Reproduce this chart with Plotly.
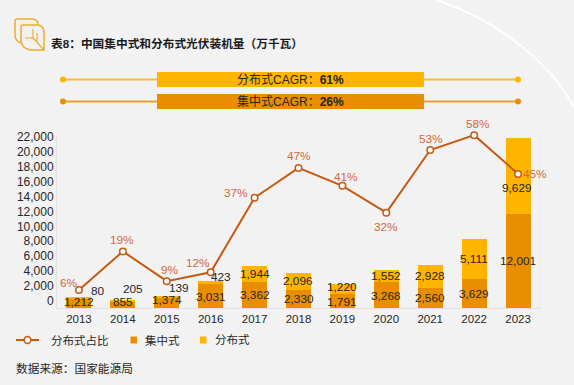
import plotly.graph_objects as go

years = ["2013","2014","2015","2016","2017","2018","2019","2020","2021","2022","2023"]
centralized = [1212,855,1374,3031,3362,2330,1791,3268,2560,3629,12001]
distributed = [80,205,139,423,1944,2096,1220,1552,2928,5111,9629]
share = [0.06,0.19,0.09,0.12,0.37,0.47,0.41,0.32,0.53,0.58,0.45]
tick_values = list(range(0,22001,2000))

FONT = "Liberation Sans, Arial, Noto Sans CJK SC"
C_CEN, C_DIS, C_LINE, C_PCT, C_TXT = "#e88e00", "#ffb400", "#c55a11", "#d2693a", "#262626"
BG = "#f2f2f2"
W, H = 574, 385
L, R, T, B = 57, 34, 135, 77
PW, PH = W - L - R, H - T - B

# label nudges in px (dx, dy-up)
cen_nudge = [(0,1.5),(0,2.6),(0,2.3),(0,-.6),(0,-.5),(0,-.5),(0,-.7),(0,-.5),(0,-.3),(0,-.6),(0,0)]
dis_nudge = [(18.7,6.9),(10,11.8),(12,8.4),(10,5.2),(0,0),(-1,0),(0,2),(0,0),(0,0),(0,0),(-1.5,-12.5)]
pct_nudge = [(-10,7.3),(-1,11),(3,11),(-12.5,9),(-18.5,5),(0,12),(4,9),(0,-14),(1,11),(4,11),(17,0)]

def fx(x): return (x - L) / PW
def fy(y): return 1 - (y - T) / PH

fig = go.Figure()
fig.add_trace(go.Scatter(x=years, y=[None]*len(years), yaxis="y", showlegend=False, hoverinfo="skip"))
fig.add_trace(go.Bar(x=years, y=centralized, name="集中式", marker=dict(color=C_CEN, line_width=0), yaxis="y2", width=0.57, showlegend=False))
fig.add_trace(go.Bar(x=years, y=distributed, name="分布式", marker=dict(color=C_DIS, line_width=0), yaxis="y2", width=0.57, showlegend=False))
fig.add_trace(go.Scatter(x=years, y=share, name="分布式占比", mode="lines+markers", yaxis="y3", cliponaxis=False, showlegend=False,
    line=dict(color=C_LINE, width=2),
    marker=dict(size=6.5, color="#fafafa", line=dict(color=C_LINE, width=1.5))))

ann = []
for i in range(len(years)):
    c, d = centralized[i], distributed[i]
    ann.append(dict(x=i, y=c/2, xref="x", yref="y2", text=f"{c:,}", showarrow=False, xshift=cen_nudge[i][0], yshift=cen_nudge[i][1],
                    font=dict(size=11.8, color=C_TXT, family=FONT)))
    ann.append(dict(x=i, y=c+d/2, xref="x", yref="y2", text=f"{d:,}", showarrow=False, xshift=dis_nudge[i][0], yshift=dis_nudge[i][1],
                    font=dict(size=11.8, color=C_TXT, family=FONT)))
    ann.append(dict(x=i, y=share[i], xref="x", yref="y3", text=f"{share[i]:.0%}", showarrow=False, xshift=pct_nudge[i][0], yshift=pct_nudge[i][1],
                    font=dict(size=11.8, color=C_PCT, family=FONT)))

def add_text(x, y, s, size, anchor="left", color=C_TXT):
    ann.append(dict(x=fx(x), y=fy(y), xref="paper", yref="paper", text=s, showarrow=False, xanchor=anchor, yanchor="middle",
                    font=dict(size=size, color=color, family=FONT)))

add_text(48.5, 44, "<b>表8：中国集中式和分布式光伏装机量（万千瓦）</b>", 11.7, color="#1a1a1a")
add_text(290.5, 79.5, "分布式CAGR：<b>61%</b>", 12, "center")
add_text(290.5, 101.5, "集中式CAGR：<b>26%</b>", 12, "center")
add_text(48.5, 340, "分布式占比", 11.5)
add_text(142.5, 340, "集中式", 11.5)
add_text(212.5, 340, "分布式", 11.5)
add_text(13.5, 368, "数据来源：国家能源局", 11.7)

sh = []
def rect(x0,y0,x1,y1,color):
    sh.append(dict(type="rect",xref="paper",yref="paper",x0=fx(x0),x1=fx(x1),y0=fy(y0),y1=fy(y1),fillcolor=color,line_width=0,layer="below"))
def line(x0,y0,x1,y1,color,w):
    sh.append(dict(type="line",xref="paper",yref="paper",x0=fx(x0),x1=fx(x1),y0=fy(y0),y1=fy(y1),line=dict(color=color,width=w),layer="below"))
def dot(x,y,r,color,fill=None,w=0):
    sh.append(dict(type="circle",xref="paper",yref="paper",x0=fx(x-r),x1=fx(x+r),y0=fy(y-r),y1=fy(y+r),
                   fillcolor=fill or color,line=dict(color=color,width=w),layer="below"))
def P(*pts):
    return " ".join(cmd + " ".join(f"{fx(x):.5f},{fy(y):.5f}" for x,y in coords) for cmd,coords in pts)
def path(d,color,w):
    sh.append(dict(type="path",path=d,xref="paper",yref="paper",line=dict(color=color,width=w),layer="below"))

# decorative arc
path(P(("M",[(437,0)]),("C",[(490,18),(545,55),(574,107)])), "#ffffff", 2)
# CAGR ribbons
line(63,79.5,518,79.5,"#f9bb3a",2); dot(63,79.5,3,C_DIS); dot(518,79.5,3,C_DIS); rect(157,72,424,87,C_DIS)
line(63,101.5,518,101.5,"#ee9f2d",2); dot(63,101.5,3,C_CEN); dot(518,101.5,3,C_CEN); rect(157,94,424,109,C_CEN)
# legend
line(16,340,39,340,C_LINE,2); dot(27.5,340,3.4,C_LINE,fill="#fafafa",w=1.5)
rect(130.5,336.5,137,343.5,C_CEN); rect(200,336.5,206.5,343.5,C_DIS)
# emblem
ICON = "#eead2a"
path(P(("M",[(17,19)]),("L",[(33,19)]),("Q",[(38,20),(38,25)]),("M",[(21,43)]),("Q",[(15,41),(15,35)]),("L",[(15,21)]),("Q",[(15,19),(17,19)])), ICON, 1.5)
path(P(("M",[(23,25)]),("L",[(38,25)]),("Q",[(44,26),(44,33)]),("L",[(44,50)]),("L",[(30,50)]),("Q",[(21,48),(21,40)]),("L",[(21,27)]),("Q",[(21,25),(23,25)])), ICON, 1.5)
path(P(("M",[(44,50)]),("L",[(33,38)]),("L",[(33,29)]),("M",[(33,38)]),("L",[(25,38)]),("M",[(37,42)]),("L",[(37,33)])), ICON, 1.2)
# right frame line
line(540,135,540,308,"#e8e8e8",1)

fig.update_layout(
    width=W, height=H, autosize=False,
    paper_bgcolor=BG, plot_bgcolor="rgba(0,0,0,0)",
    margin=dict(l=L, r=R, t=T, b=B),
    barmode="stack", showlegend=False,
    font=dict(family=FONT, size=12, color=C_TXT),
    xaxis=dict(type="category", categoryorder="array", categoryarray=years, range=[-0.5,10.5], showgrid=False, showline=True, linecolor="#e2e2e2", linewidth=1,
               ticks="", tickfont=dict(size=11.5, color=C_TXT), automargin=False),
    yaxis=dict(range=[-937,22222], tickvals=tick_values, tickformat=",", showgrid=False, zeroline=False, showline=True, linecolor="#e2e2e2",
               linewidth=1, ticks="", tickfont=dict(size=12, color=C_TXT), automargin=False),
    yaxis2=dict(range=[0,22000], overlaying="y", visible=False, fixedrange=True),
    yaxis3=dict(range=[0,0.5805], overlaying="y", visible=False, fixedrange=True),
    annotations=ann, shapes=sh,
)

fig.write_html("out.html", config=dict(displayModeBar=False),
               post_script="document.body.style.margin='0';document.body.style.background='#f2f2f2';")
